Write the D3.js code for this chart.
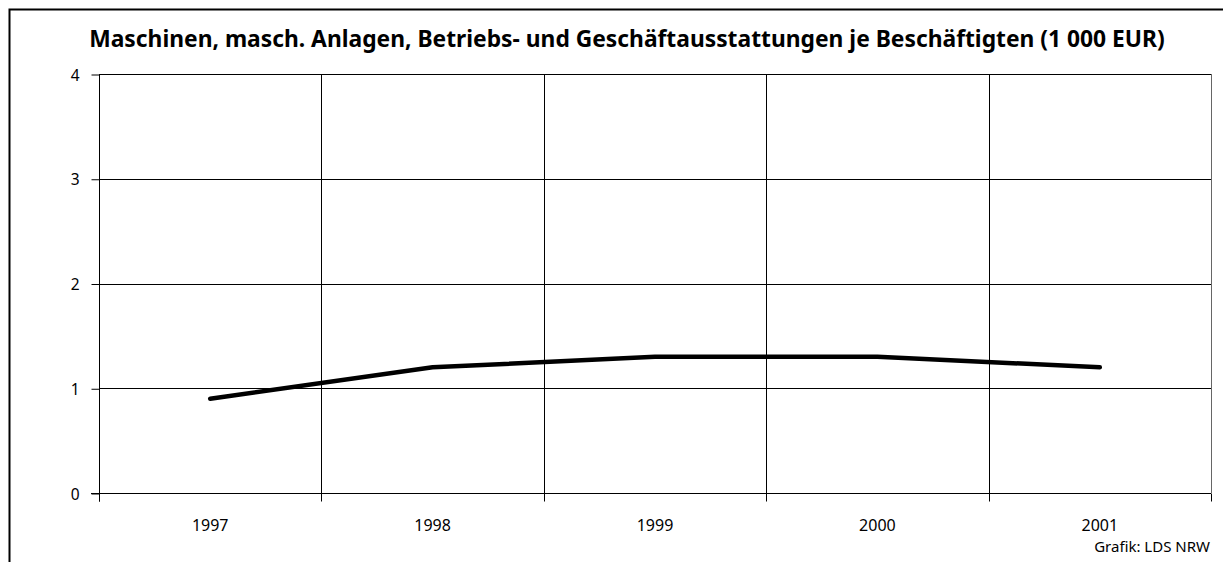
<!DOCTYPE html>
<html><head><meta charset="utf-8">
<script src="https://cdn.jsdelivr.net/npm/d3@7"></script>
<style>body{margin:0;background:#fff}svg{display:block}text{font-family:"Noto Sans","Open Sans",sans-serif}</style>
</head><body>
<svg id="c" width="1223" height="562"></svg>
<script>
const years = ["1997","1998","1999","2000","2001"];
const values = [0.9, 1.2, 1.3, 1.3, 1.2];
const yTicks = [0,1,2,3,4];
const title = "Maschinen, masch. Anlagen, Betriebs- und Geschäftausstattungen je Beschäftigten (1 000 EUR)";
const source = "Grafik: LDS NRW";

const svg = d3.select("#c");
const m = {l:99, r:1211, t:74, b:493};
// outer frame (left and top)
svg.append("path").attr("d","M9.5,562V9.5H1223").attr("fill","none").attr("stroke","#000").attr("stroke-width",2);

const x = d3.scaleBand().domain(years).range([m.l,m.r]).padding(0);
const y = d3.scaleLinear().domain([0,4]).range([m.b,m.t]);

// horizontal grid
svg.append("g").selectAll("line").data(yTicks.filter(d=>d>0)).join("line")
  .attr("x1",m.l).attr("x2",m.r).attr("y1",d=>Math.round(y(d))+0.5).attr("y2",d=>Math.round(y(d))+0.5)
  .attr("stroke","#000").attr("stroke-width",1);
// vertical grid at category boundaries
svg.append("g").selectAll("line").data(years.slice(1)).join("line")
  .attr("x1",d=>Math.round(x(d))+0.5).attr("x2",d=>Math.round(x(d))+0.5).attr("y1",m.t).attr("y2",m.b)
  .attr("stroke","#000").attr("stroke-width",1);
// right border
svg.append("line").attr("x1",m.r+0.5).attr("x2",m.r+0.5).attr("y1",m.t).attr("y2",m.b).attr("stroke","#666");

// y axis
const ya = svg.append("g").attr("transform",`translate(${m.l+0.5},0.5)`)
  .call(d3.axisLeft(y).tickValues(yTicks).tickSize(8).tickPadding(12).tickFormat(d3.format("d")));
ya.select(".domain").attr("stroke","#000").attr("d",`M0,${m.t}V${m.b+8}`);
ya.selectAll("text").style("font-size","15.5px").attr("fill","#000").attr("dy","0.36em")
  .style("font-family",'"Noto Sans","Open Sans",sans-serif');

// x axis ticks at boundaries
const xa = svg.append("g").attr("transform",`translate(0,${m.b+0.5})`);
xa.append("line").attr("x1",m.l-8).attr("x2",m.r).attr("stroke","#000");
xa.selectAll("line.t").data(years.map(d=>x(d)).concat([m.r])).join("line").attr("class","t")
  .attr("x1",d=>Math.round(d)+0.5).attr("x2",d=>Math.round(d)+0.5).attr("y1",0).attr("y2",8).attr("stroke","#000");
xa.selectAll("text").data(years).join("text")
  .attr("x",d=>x(d)+x.bandwidth()/2).attr("y",37).attr("text-anchor","middle").style("font-size","16px").text(d=>d);

// line
svg.append("path").datum(values)
  .attr("d",d3.line().x((d,i)=>x(years[i])+x.bandwidth()/2).y(d=>y(d)))
  .attr("fill","none").attr("stroke","#000").attr("stroke-width",4.5).attr("stroke-linejoin","round").attr("stroke-linecap","round");

svg.append("text").attr("x",627).attr("y",47).attr("text-anchor","middle").style("font-size","22.8px").attr("font-weight","bold").text(title);
svg.append("text").attr("x",1210).attr("y",552).attr("text-anchor","end").style("font-size","15px").text(source);
</script>
</body></html>
